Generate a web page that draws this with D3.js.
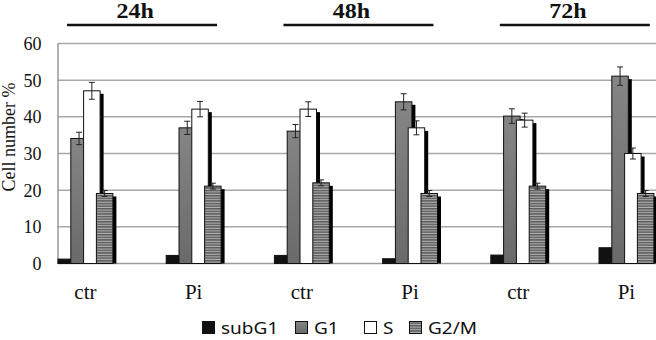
<!DOCTYPE html>
<html><head><meta charset="utf-8">
<script src="https://cdn.jsdelivr.net/npm/d3@7"></script>
<style>body{margin:0;background:#fff}svg{display:block}
.serif{font-family:"Liberation Serif","Times New Roman",serif}
.sans{font-family:"Noto Sans","DejaVu Sans",sans-serif}
</style>
</head><body>
<script>
const categories = ["ctr","Pi","ctr","Pi","ctr","Pi"];
const timeLabels = ["24h","48h","72h"];
const seriesNames = ["subG1","G1","S","G2/M"];
const subG1 = [1.2, 2.2, 2.2, 1.3, 2.3, 4.3];
const G1 = [34.1, 37.0, 36.1, 44.1, 40.2, 51.1];
const S = [47.1, 42.1, 42.1, 37.0, 39.1, 30.0];
const G2M = [19.1, 21.1, 22.0, 19.1, 21.1, 19.1];
const errG1 = [1.7, 1.8, 1.8, 2.2, 2.0, 2.5];
const errS = [2.3, 2.1, 2.0, 1.9, 1.9, 1.5];
const errG2M = [0.8, 0.8, 0.8, 0.8, 0.8, 0.8];
const yTicks = [0,10,20,30,40,50,60];

const W = 656, H = 340;
const svg = d3.select("body").append("svg").attr("width", W).attr("height", H);
const defs = svg.append("defs");
const pat = defs.append("pattern").attr("id","stripes").attr("patternUnits","userSpaceOnUse")
  .attr("width", 4).attr("height", 2.6);
pat.append("rect").attr("width",4).attr("height",2.6).attr("fill","#5a5a5a");
pat.append("rect").attr("y",1.5).attr("width",4).attr("height",1.1).attr("fill","#b4b4b4");
const grad = defs.append("linearGradient").attr("id","g1grad").attr("x1",0).attr("y1",0).attr("x2",0).attr("y2",1);
grad.append("stop").attr("offset","0%").attr("stop-color","#858585");
grad.append("stop").attr("offset","100%").attr("stop-color","#6a6a6a");

const seriesVals = [subG1, G1, S, G2M];
const seriesErr = [null, errG1, errS, errG2M];
const fills = ["#111", "url(#g1grad)", "#fff", "url(#stripes)"];

const plotLeft = 57.5, groupStep = 108.2;
const y = d3.scaleLinear().domain([0,60]).range([263.5, 43.5]);
const x = d3.scaleLinear().domain([0,6]).range([plotLeft, plotLeft + 6*groupStep]);
const barStep = 12.8, barW = 17.5;
const groupSpan = 3*barStep + barW;

// gridlines
svg.append("g").selectAll("line").data(yTicks.filter(d=>d>0)).join("line")
  .attr("x1", plotLeft).attr("x2", W).attr("y1", d=>y(d)).attr("y2", d=>y(d))
  .attr("stroke","#a8a8a8").attr("stroke-width",1.5);

// y axis
const yAxis = d3.axisLeft(y).tickValues(yTicks).tickSize(0).tickPadding(16);
const ya = svg.append("g").attr("transform",`translate(${plotLeft},0)`).call(yAxis)
  .attr("font-family", null).attr("font-size", null);
ya.select(".domain").attr("stroke","#9a9a9a").attr("stroke-width",1.5);
ya.selectAll("text").attr("class","serif").style("font-size","18px").attr("fill","#111")
  .attr("dy","0.34em");
// baseline
svg.append("line").attr("x1",plotLeft).attr("x2",W).attr("y1",y(0)).attr("y2",y(0))
  .attr("stroke","#9a9a9a").attr("stroke-width",1.5);

// bars
const bars = svg.append("g");
categories.forEach((c,i)=>{
  const gl = x(i);
  seriesVals.forEach((vals,j)=>{
    const v = vals[i];
    const bx = gl + j*barStep;
    const top = y(v);
    bars.append("rect").attr("x", bx+3).attr("y", Math.min(top+3, y(0)))
      .attr("width", barW).attr("height", Math.max(0, y(0)-top-3)).attr("fill","#000");
    bars.append("rect").attr("x", bx+0.5).attr("y", top)
      .attr("width", barW-1).attr("height", y(0)-top)
      .attr("fill", fills[j]).attr("stroke","#111").attr("stroke-width",1);
    const e = seriesErr[j];
    if (e) {
      const cx = bx + barW/2;
      const eg = bars.append("g").attr("stroke","#222").attr("stroke-width",1);
      eg.append("line").attr("x1",cx).attr("x2",cx).attr("y1",y(v+e[i])).attr("y2",y(v-e[i]));
      eg.append("line").attr("x1",cx-3).attr("x2",cx+3).attr("y1",y(v+e[i])).attr("y2",y(v+e[i]));
      eg.append("line").attr("x1",cx-3).attr("x2",cx+3).attr("y1",y(v-e[i])).attr("y2",y(v-e[i]));
    }
  });
  svg.append("text").attr("class","serif").attr("x", gl + groupSpan/2).attr("y", 299)
    .attr("text-anchor","middle").style("font-size","21px")
    .attr("fill","#111").text(c);
});

// time labels + lines
timeLabels.forEach((t,k)=>{
  const c = (x(2*k) + x(2*k+1) + groupSpan)/2;
  svg.append("line").attr("x1", c+2.5-75).attr("x2", c+2.5+75).attr("y1",25).attr("y2",25)
    .attr("stroke","#111").attr("stroke-width",2.5);
  svg.append("text").attr("class","serif").attr("transform",`translate(${c-4.5},18) scale(1.2,1)`)
    .attr("text-anchor","middle").style("font-weight","bold").style("font-size","20px")
    .attr("fill","#111").text(t);
});

// y title
svg.append("text").attr("class","serif").attr("transform","translate(15,137) rotate(-90)")
  .attr("text-anchor","middle").style("font-size","18px").attr("fill","#111").text("Cell number %");

// legend
const legX = [202, 295, 364, 409];
seriesNames.forEach((n,j)=>{
  svg.append("rect").attr("x", legX[j]+0.5).attr("y", 321.5).attr("width",12).attr("height",12)
    .attr("fill", fills[j]).attr("stroke","#111").attr("stroke-width",1);
  svg.append("text").attr("class","sans").attr("transform",`translate(${legX[j]+19},334) scale(1.12,1)`)
    .style("font-size","17px").attr("fill","#111").text(n);
});
</script>
</body></html>
